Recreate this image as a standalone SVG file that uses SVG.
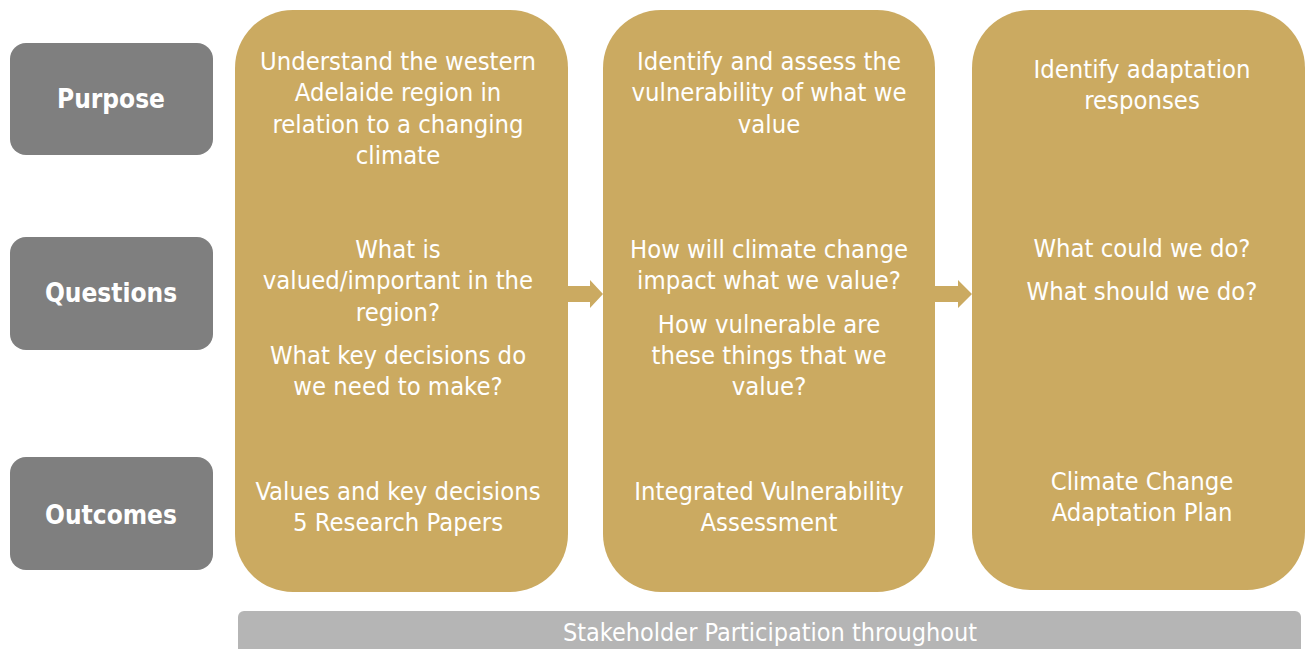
<svg xmlns="http://www.w3.org/2000/svg" width="1308" height="649" viewBox="0 0 1308 649">
<style>
.lab{fill:#7f7f7f}
.col{fill:#cbaa61}
.lt{font-family:"DejaVu Sans Condensed","DejaVu Sans",sans-serif;font-stretch:condensed;font-weight:bold;font-size:26px;fill:#fff;text-anchor:middle}
.t{font-family:"DejaVu Sans Condensed","DejaVu Sans",sans-serif;font-stretch:condensed;font-size:25.4px;fill:#fff;text-anchor:middle}
.bar{fill:#b5b5b5}
.bt{font-family:"DejaVu Sans Condensed","DejaVu Sans",sans-serif;font-stretch:condensed;font-size:25px;fill:#fff;text-anchor:middle}
</style>
<rect width="1308" height="649" fill="#fff"/>
<g id="purpose"><rect class="lab" x="10" y="43" width="203" height="112" rx="16"/><text class="lt" x="111" y="108">Purpose</text></g>
<g id="questions"><rect class="lab" x="10" y="237" width="203" height="113" rx="16"/><text class="lt" x="111" y="302">Questions</text></g>
<g id="outcomes"><rect class="lab" x="10" y="457" width="203" height="113" rx="16"/><text class="lt" x="111" y="524">Outcomes</text></g>
<g id="col1"><rect class="col" x="235" y="10" width="333" height="582" rx="58"/>
<text class="t" x="398" y="70">Understand the western</text>
<text class="t" x="398" y="101">Adelaide region in</text>
<text class="t" x="398" y="133">relation to a changing</text>
<text class="t" x="398" y="164">climate</text>
<text class="t" x="398" y="258">What is</text>
<text class="t" x="398" y="289">valued/important in the</text>
<text class="t" x="398" y="321">region?</text>
<text class="t" x="398" y="364">What key decisions do</text>
<text class="t" x="398" y="395">we need to make?</text>
<text class="t" x="398" y="500">Values and key decisions</text>
<text class="t" x="398" y="531">5 Research Papers</text>
</g>
<g id="col2"><rect class="col" x="603" y="10" width="332" height="582" rx="58"/>
<text class="t" x="769" y="70">Identify and assess the</text>
<text class="t" x="769" y="101">vulnerability of what we</text>
<text class="t" x="769" y="133">value</text>
<text class="t" x="769" y="258">How will climate change</text>
<text class="t" x="769" y="289">impact what we value?</text>
<text class="t" x="769" y="333">How vulnerable are</text>
<text class="t" x="769" y="364">these things that we</text>
<text class="t" x="769" y="395">value?</text>
<text class="t" x="769" y="500">Integrated Vulnerability</text>
<text class="t" x="769" y="531">Assessment</text>
</g>
<g id="col3"><rect class="col" x="972" y="10" width="333" height="580" rx="58"/>
<text class="t" x="1142" y="78">Identify adaptation</text>
<text class="t" x="1142" y="109">responses</text>
<text class="t" x="1142" y="257">What could we do?</text>
<text class="t" x="1142" y="300">What should we do?</text>
<text class="t" x="1142" y="490">Climate Change</text>
<text class="t" x="1142" y="521">Adaptation Plan</text>
</g>
<g id="connectors">
<path class="col" d="M566,286 H590 V280 L603,294 L590,308 V302 H566 Z"/>
<path class="col" d="M933,286 H958 V280 L972,294 L958,308 V302 H933 Z"/>
</g>
<g id="stakeholder"><rect class="bar" x="238" y="611" width="1063" height="50" rx="6"/><text class="bt" x="770" y="641">Stakeholder Participation throughout</text></g>
</svg>
